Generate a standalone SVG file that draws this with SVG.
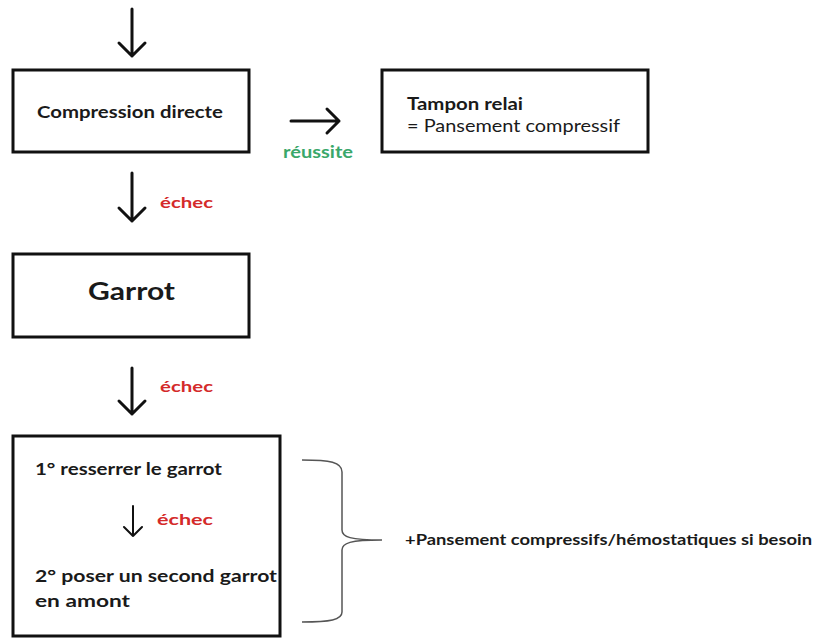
<svg xmlns="http://www.w3.org/2000/svg" width="820" height="641" viewBox="0 0 820 641">
<style>
.box{fill:#fff;stroke:#111;stroke-width:3}
.t{font-family:Lato,"Open Sans","Liberation Sans",sans-serif;font-weight:bold;fill:#1a1a1a}
.r{font-family:Lato,"Open Sans","Liberation Sans",sans-serif;fill:#1a1a1a}
.red{fill:#d42a2a}
.green{fill:#3aa76a}
.arr{fill:none;stroke:#111;stroke-width:3;stroke-linecap:round;stroke-linejoin:round}
.arrs{fill:none;stroke:#111;stroke-width:2;stroke-linecap:round;stroke-linejoin:round}
.brace{fill:none;stroke:#555;stroke-width:1.5}
</style>
<rect width="820" height="641" fill="#fff"/>
<g id="connectors">
<path class="arr" d="M132 9 V56 M119 43 L132 56 L145 43"/>
<path class="arr" d="M291 121 H339 M327 109 L339 121 L327 133"/>
<path class="arr" d="M132 173 V221 M119 208 L132 221 L145 208"/>
<path class="arr" d="M132 368 V414 M119 401 L132 414 L145 401"/>
<text class="t green" x="283" y="158" font-size="17" textLength="70" lengthAdjust="spacingAndGlyphs">réussite</text>
<text class="t red" x="160" y="208" font-size="15" textLength="53" lengthAdjust="spacingAndGlyphs">échec</text>
<text class="t red" x="160" y="392" font-size="15" textLength="53" lengthAdjust="spacingAndGlyphs">échec</text>
<path class="brace" d="M302 460 C330 460 342 462 342 472 V530 C342 537 350 540 382 540 C350 540 342 543 342 550 V612 C342 620 330 622 302 622"/>
</g>
<g id="compression">
<rect class="box" x="13" y="70" width="236" height="82"/>
<text class="t" x="37" y="118" font-size="17.5" textLength="186" lengthAdjust="spacingAndGlyphs">Compression directe</text>
</g>
<g id="tampon">
<rect class="box" x="382" y="70" width="266" height="82"/>
<text class="t" x="407" y="110" font-size="16.5" textLength="116" lengthAdjust="spacingAndGlyphs">Tampon relai</text>
<text class="r" x="407" y="132" font-size="16.5" textLength="213" lengthAdjust="spacingAndGlyphs">= Pansement compressif</text>
</g>
<g id="garrot">
<rect class="box" x="13" y="254" width="236" height="83"/>
<text class="t" x="88" y="300" font-size="25" textLength="87" lengthAdjust="spacingAndGlyphs">Garrot</text>
</g>
<g id="etapes">
<rect class="box" x="13" y="436" width="267" height="200"/>
<text class="t" x="35" y="475" font-size="17.5" textLength="187" lengthAdjust="spacingAndGlyphs">1° resserrer le garrot</text>
<path class="arrs" d="M133 506 V536 M124 527 L133 536 L142 527"/>
<text class="t red" x="157" y="525" font-size="16" textLength="56" lengthAdjust="spacingAndGlyphs">échec</text>
<text class="t" x="35" y="582" font-size="17.5" textLength="242" lengthAdjust="spacingAndGlyphs">2° poser un second garrot</text>
<text class="t" x="35" y="607" font-size="17.5" textLength="95" lengthAdjust="spacingAndGlyphs">en amont</text>
</g>
<g id="pansement">
<text class="t" x="405" y="545" font-size="14.5" textLength="407" lengthAdjust="spacingAndGlyphs">+Pansement compressifs/hémostatiques si besoin</text>
</g>
</svg>
